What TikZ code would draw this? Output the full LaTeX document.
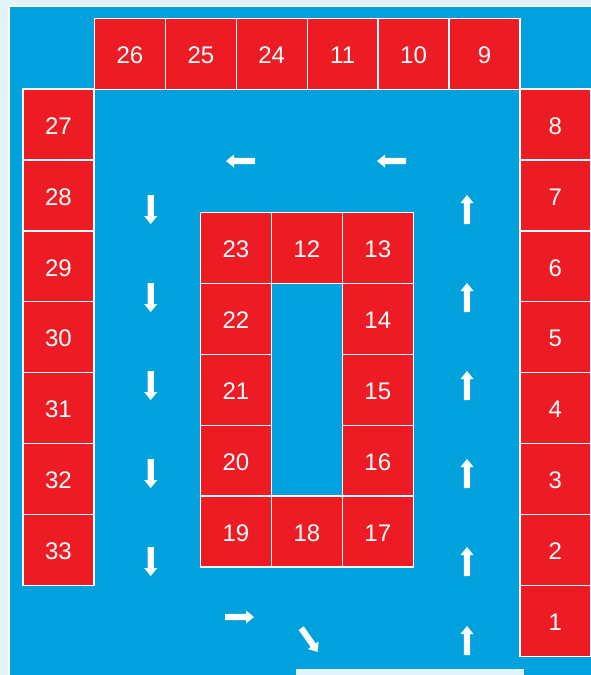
\documentclass[tikz,border=0pt]{standalone}
\usepackage{fontspec}
\setmainfont{Liberation Sans}
\definecolor{bgl}{RGB}{227,243,252}
\definecolor{lotblue}{RGB}{0,161,220}
\definecolor{cellred}{RGB}{237,28,36}
\tikzset{
  cell/.style={draw=white, line width=1.4pt, fill=cellred, minimum width=70.9pt, minimum height=70.9pt, inner sep=0pt, text=white, font=\fontsize{24}{28}\selectfont, text height=19.6pt, text depth=0pt},
  flow/.pic={\fill[white] (-14.5,-3.1) -- (6.5,-3.1) -- (6.5,-6.5) -- (14.5,0) -- (6.5,6.5) -- (6.5,3.1) -- (-14.5,3.1) -- cycle;}
}
\begin{document}
\begin{tikzpicture}[x=1pt,y=-1pt]
\useasboundingbox (0,0) rectangle (591,675);
\fill[bgl] (0,0) rectangle (591,675);
\fill[white] (8,5) rectangle (591,675);
\fill[lotblue] (10,7) rectangle (591,675);
\fill[bgl] (296,669.3) rectangle (524,675);
% top row
\foreach \n/\x in {26/129.95,25/200.85,24/271.75,11/342.65,10/413.55,9/484.45}
  \node[cell] (c\n) at (\x,54) {\n};
% left column
\foreach \n/\y in {27/124.45,28/195.35,29/266.25,30/337.15,31/408.05,32/478.95,33/549.85}
  \node[cell] (c\n) at (58.5,\y) {\n};
% right column
\foreach \n/\y in {8/124.45,7/195.35,6/266.25,5/337.15,4/408.05,3/478.95,2/549.85,1/620.75}
  \node[cell] (c\n) at (555.35,\y) {\n};
% inner block
\foreach \n/\x/\y in {23/235.95/247.95,12/306.85/247.95,13/377.75/247.95,
  22/235.95/318.85,21/235.95/389.75,20/235.95/460.65,
  14/377.75/318.85,15/377.75/389.75,16/377.75/460.65,
  19/235.95/531.55,18/306.85/531.55,17/377.75/531.55}
  \node[cell] (c\n) at (\x,\y) {\n};
% flow arrows
\foreach \y in {209.5,297.5,385.5,473.5,561.5}
  \pic[rotate=-90] at (150.7,\y) {flow};
\foreach \y in {209.5,297.5,385.5,473.5,561.5,640.5}
  \pic[rotate=90] at (467,\y) {flow};
\pic[rotate=180] at (240.5,161) {flow};
\pic[rotate=180] at (391.5,161) {flow};
\pic at (239.5,617) {flow};
\pic[rotate=-55] at (309.5,640) {flow};
\end{tikzpicture}
\end{document}
